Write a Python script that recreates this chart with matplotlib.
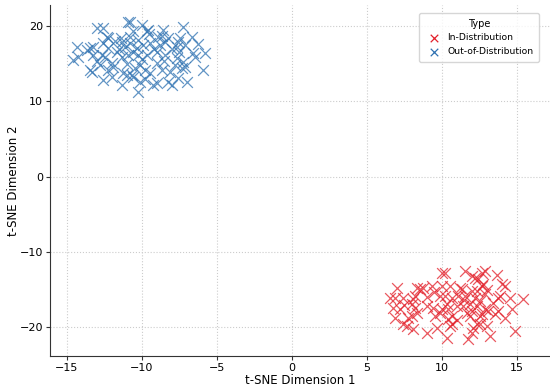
import matplotlib
matplotlib.use("Agg")
import matplotlib.pyplot as plt

# Out-of-Distribution (blue) points
ood_x = [-10.91, -10.80, -13.02, -12.58, -10.02, -9.69, -9.58, -8.58, -7.29, -12.36,
         -12.24, -11.42, -10.80, -10.24, -8.91, -8.69, -8.24, -7.58, -7.47, -6.69,
         -14.36, -13.47, -13.24, -13.69, -12.58, -12.24, -11.36, -11.13, -10.80, -10.36,
         -9.91, -9.47, -8.80, -8.47, -7.69, -7.13, -6.24, -14.58, -14.24, -13.24,
         -12.69, -12.47, -11.69, -11.36, -10.58, -10.24, -9.69, -9.02, -8.47, -7.69,
         -7.24, -6.58, -6.47, -5.80, -13.47, -13.36, -12.02, -11.91, -12.24, -11.24,
         -10.69, -10.47, -10.13, -9.80, -9.47, -9.02, -8.69, -8.13, -7.80, -7.36,
         -7.13, -5.91, -12.58, -11.36, -10.58, -10.13, -9.24, -9.02, -8.24, -8.02,
         -7.58, -7.02, -10.24, -11.02, -11.5, -10.0, -9.2, -12.8, -8.5, -11.0,
         -9.5, -13.0, -10.6, -8.0, -12.0, -9.8, -7.5, -11.8, -10.9]
ood_y = [20.57, 20.48, 19.78, 19.78, 20.13, 19.34, 19.47, 19.47, 19.87, 18.59,
         18.37, 18.45, 18.59, 18.14, 18.59, 18.72, 18.37, 17.92, 18.37, 18.59,
         17.26, 17.04, 17.26, 16.82, 17.70, 17.04, 17.92, 17.26, 17.70, 17.04,
         17.48, 17.70, 17.48, 17.92, 17.26, 17.48, 17.57, 15.50, 15.94, 16.16,
         16.16, 15.94, 16.60, 15.94, 16.60, 16.16, 16.16, 16.60, 16.16, 15.72,
         15.27, 16.38, 15.94, 16.38, 14.17, 13.95, 15.05, 14.61, 14.17, 13.73,
         13.51, 14.39, 14.83, 14.17, 13.73, 15.05, 14.17, 13.95, 14.83, 14.39,
         14.61, 14.17, 12.85, 12.18, 13.29, 12.63, 12.18, 12.40, 12.63, 12.18,
         13.07, 12.63, 11.30, 13.51, 16.9, 15.6, 16.9, 14.8, 15.3, 15.0,
         18.9, 15.3, 19.3, 17.0, 13.2, 13.0, 16.5, 18.0, 16.2]

# In-Distribution (red) points
ind_x = [9.98, 10.20, 11.53, 11.98, 12.20, 12.64, 12.87, 13.64, 12.42, 12.64,
         12.76, 13.98, 14.20, 6.98, 8.31, 8.53, 8.76, 9.31, 9.98, 10.53,
         11.20, 11.31, 11.98, 12.31, 12.87, 13.76, 13.87, 14.53, 15.42, 6.53,
         6.87, 7.42, 8.09, 8.20, 9.87, 10.20, 10.64, 11.09, 11.53, 12.20,
         12.53, 13.42, 6.76, 7.20, 7.98, 8.20, 8.98, 9.42, 10.31, 10.42,
         10.98, 11.42, 11.87, 12.31, 12.87, 13.09, 13.76, 14.64, 6.87, 7.76,
         7.98, 8.31, 9.53, 9.87, 10.42, 10.64, 11.64, 11.87, 12.53, 12.64,
         13.53, 14.20, 7.42, 7.64, 8.09, 8.98, 9.64, 10.53, 10.64, 12.09,
         12.31, 12.53, 12.98, 11.98, 10.31, 11.75, 13.20, 14.87, 9.0, 11.0,
         9.5, 13.0, 7.5, 10.0, 12.0, 11.5]
ind_y = [-12.76, -12.76, -12.54, -13.20, -13.42, -12.76, -12.54, -12.98, -13.64, -14.52,
         -14.30, -14.30, -14.52, -14.74, -14.74, -14.97, -14.74, -14.52, -14.52, -14.52,
         -14.74, -14.97, -15.19, -15.19, -15.63, -16.07, -15.85, -16.07, -16.29, -16.07,
         -16.07, -16.07, -16.29, -15.85, -15.85, -15.85, -16.07, -15.85, -15.85, -16.07,
         -16.51, -16.73, -17.39, -17.61, -16.95, -17.39, -17.17, -17.39, -16.95, -17.61,
         -17.17, -17.17, -16.95, -17.17, -17.61, -17.84, -17.84, -17.61, -18.72, -18.72,
         -18.50, -18.06, -18.50, -18.06, -18.94, -18.50, -18.06, -18.50, -18.50, -18.28,
         -18.28, -18.72, -19.60, -19.82, -20.26, -20.71, -20.04, -19.82, -19.60, -20.04,
         -19.60, -19.60, -19.82, -20.71, -21.37, -21.59, -21.15, -20.48, -16.0, -19.0,
         -15.3, -15.0, -17.0, -17.5, -17.8, -16.4]

fig = plt.figure(figsize=(5.5, 3.9), dpi=100)
ax = fig.add_axes([50/550, 1-356/390, 1-50/550, (356-5)/390])

ax.scatter(ind_x, ind_y, marker='x', s=60, color='#e3202a', alpha=0.75,
           linewidths=0.9, label='In-Distribution', zorder=3)
ax.scatter(ood_x, ood_y, marker='x', s=60, color='#2f72b2', alpha=0.75,
           linewidths=0.9, label='Out-of-Distribution', zorder=3)

ax.set_xlim(-16.13, 17.2)
ax.set_ylim(-23.8, 22.8)
ax.set_xticks([-15, -10, -5, 0, 5, 10, 15])
ax.set_yticks([-20, -10, 0, 10, 20])
ax.grid(True, linestyle=':', color='#cccccc', linewidth=0.8)
ax.set_axisbelow(True)
for s in ['top', 'right']:
    ax.spines[s].set_visible(False)
for s in ['left', 'bottom']:
    ax.spines[s].set_color('#333333')
    ax.spines[s].set_linewidth(0.8)
ax.tick_params(labelsize=8, length=3, width=0.8, color='#333333', pad=2)
ax.set_xlabel('t-SNE Dimension 1', fontsize=8.5, labelpad=1)
ax.set_ylabel('t-SNE Dimension 2', fontsize=8.5, labelpad=0)

leg = ax.legend(title='Type', loc='upper right', fontsize=6.7, title_fontsize=7,
                frameon=True, fancybox=True, borderpad=0.6, handletextpad=0.4,
                markerscale=0.7, bbox_to_anchor=(0.987, 0.99))
for h in leg.legend_handles:
    h.set_alpha(1)
leg.get_frame().set_edgecolor('#cccccc')

fig.savefig('out.png', dpi=100)
